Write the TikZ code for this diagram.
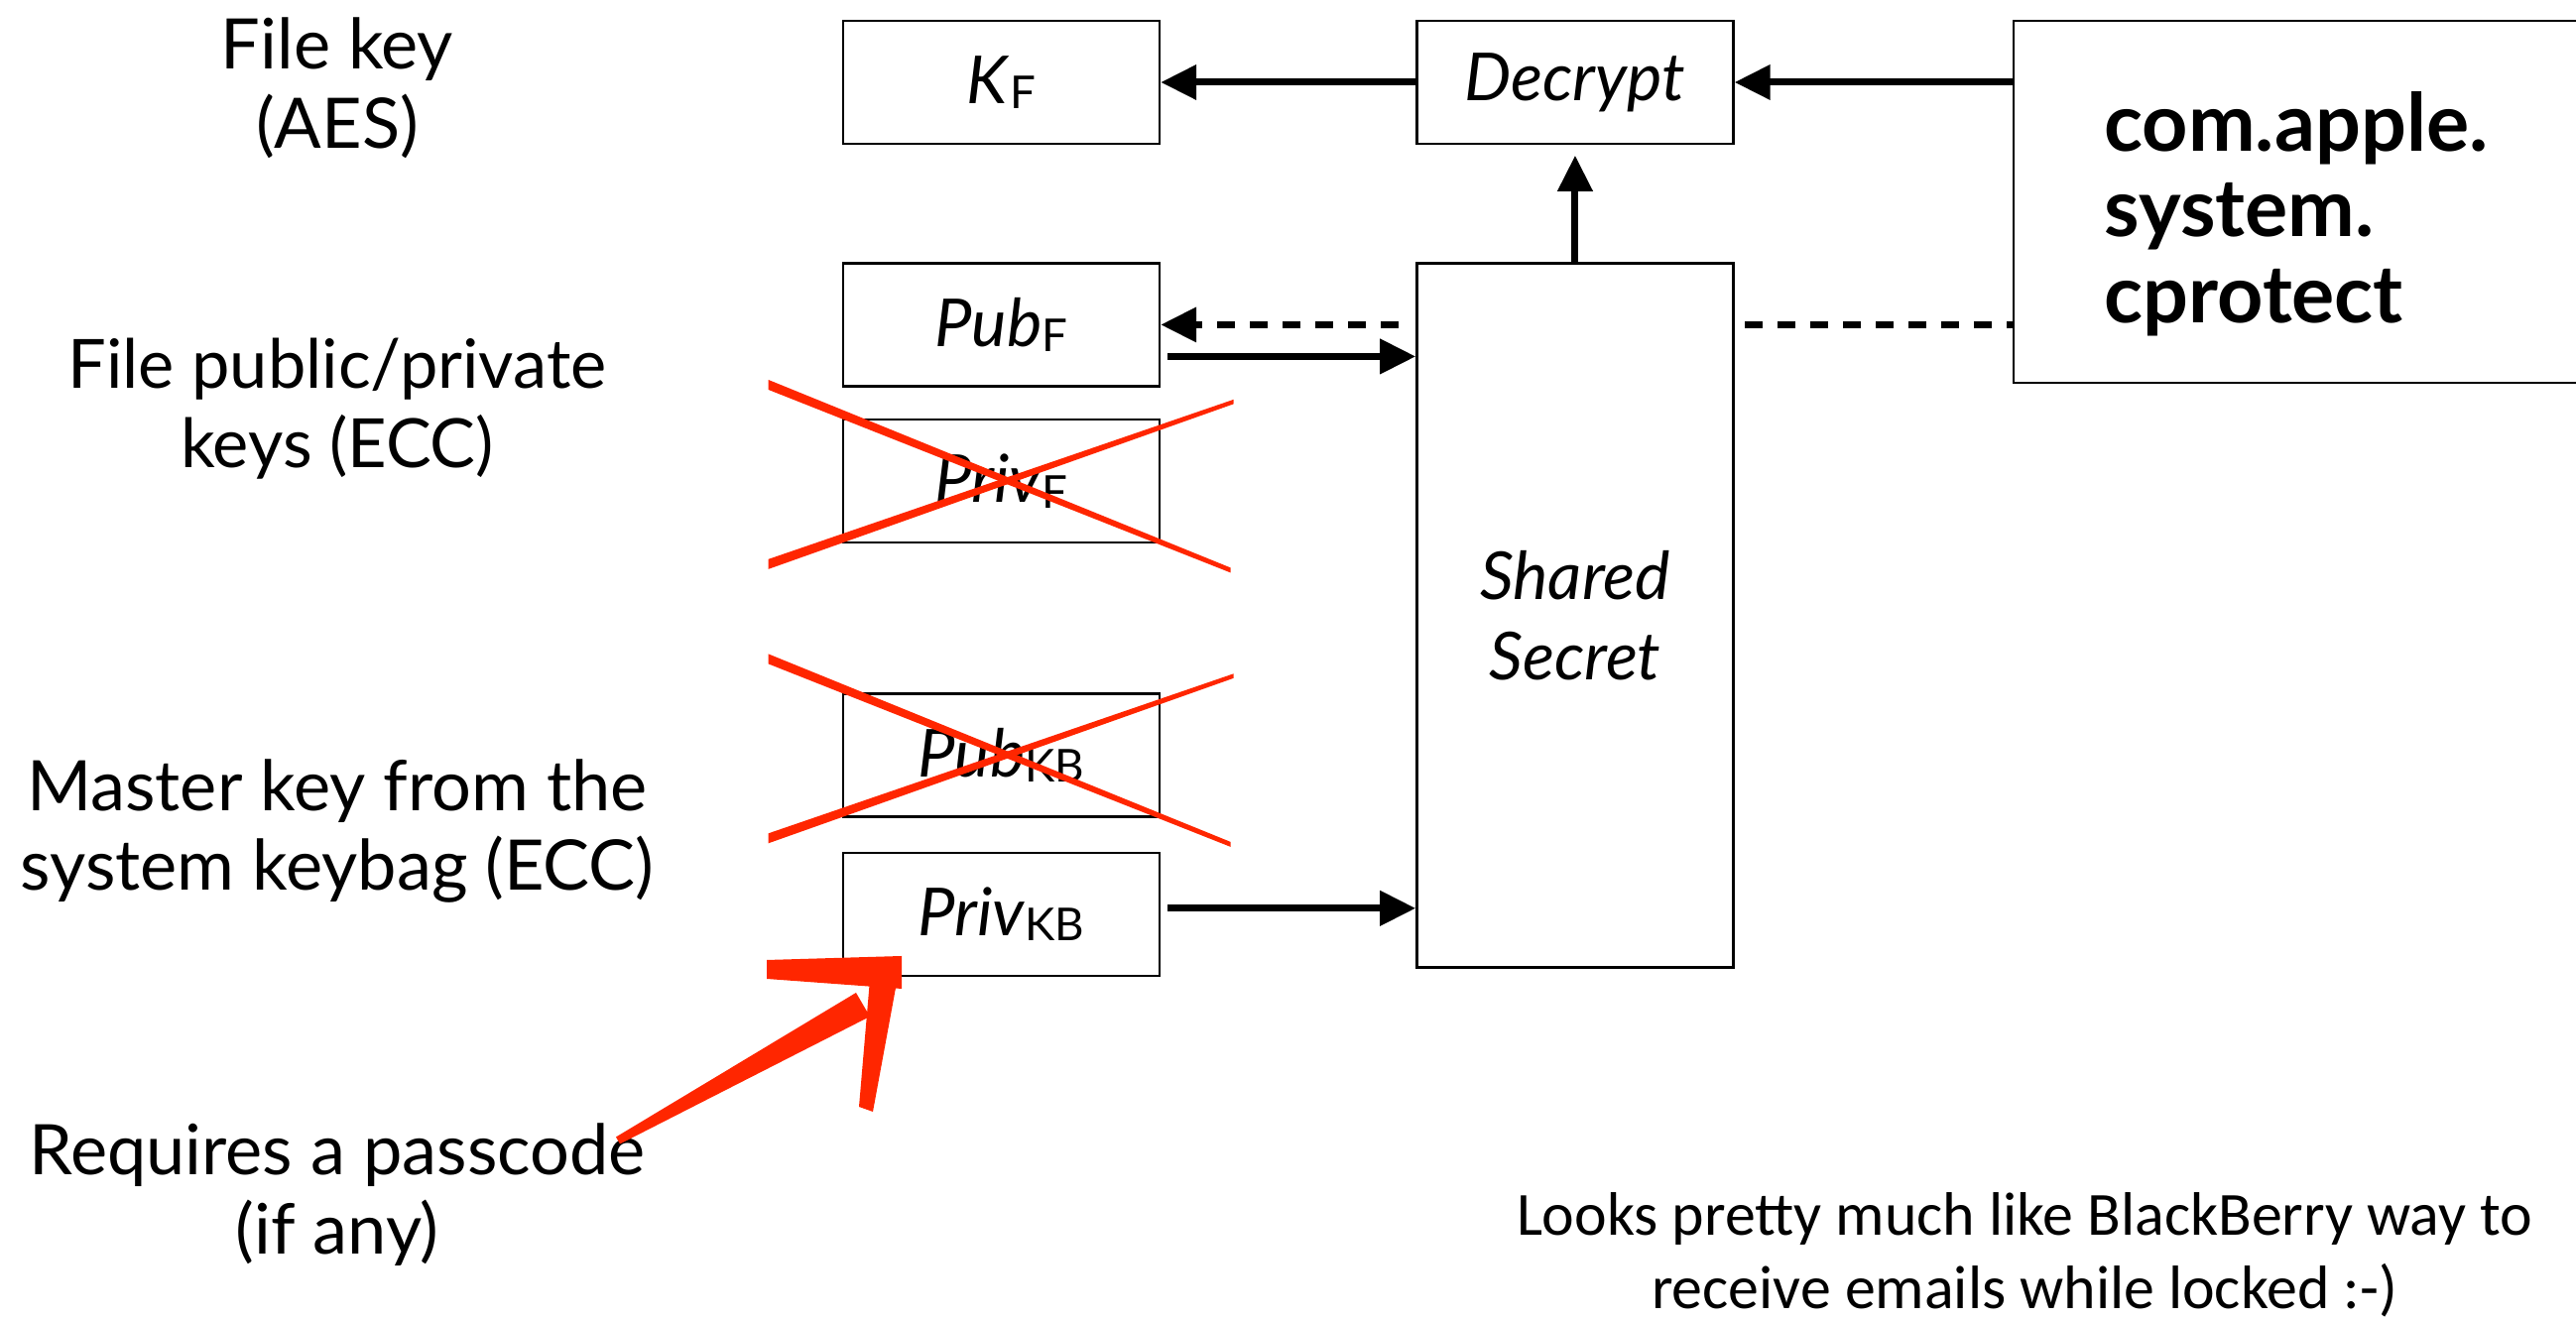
\documentclass[tikz,border=0pt]{standalone}
\usepackage{fontspec}
\setmainfont{Lato}
\newfontfamily\notefont{Carlito}
\usetikzlibrary{arrows.meta, positioning, calc}
\definecolor{scribble}{RGB}{255,38,0}
\newcommand{\keyname}[2]{\textit{#1}\raisebox{-1.6pt}{\fontsize{13}{13}\selectfont #2}}
\newcommand{\strikeout}[1]{%
  \fill[scribble] ($(#1)+(-2.35,1.02)$) -- ($(#1)+(2.31,-0.875)$) -- ($(#1)+(2.31,-0.925)$) -- ($(#1)+(-2.35,0.92)$) -- cycle;
  \fill[scribble] ($(#1)+(-2.35,-0.79)$) -- ($(#1)+(2.34,0.82)$) -- ($(#1)+(2.34,0.775)$) -- ($(#1)+(-2.35,-0.89)$) -- cycle;}
\tikzset{
  keybox/.style={rectangle, minimum width=3.19cm, minimum height=1.24cm, inner sep=0pt,
    draw=black, line width=0.7pt, font=\fontsize{19}{23}\selectfont},
  sidelabel/.style={align=center, font=\fontsize{20}{22.7}\selectfont},
  arr/.style={-{Triangle[length=0.36cm, width=0.34cm]}, line width=2pt},
  darr/.style={arr, dash pattern=on 0.18cm off 0.15cm},
  dline/.style={line width=2pt, dash pattern=on 0.18cm off 0.15cm},
}

\begin{document}
\begin{tikzpicture}[node distance=1.18cm]
  \useasboundingbox (0,0) rectangle (25.97,13.31);
  \node[keybox] (kf) at (10.095,12.48) {\keyname{K}{F}};
  \node[keybox, right=2.57cm of kf] (decrypt) {\textit{Decrypt}};
  \node[keybox, below=of kf] (pubf) {\keyname{Pub}{F}};
  \node[keybox, below=0.31cm of pubf] (privf) {\keyname{Priv}{F}};
  \node[keybox, below=1.50cm of privf] (pubkb) {\keyname{Pub}{KB}};
  \node[keybox, below=0.34cm of pubkb] (privkb) {\keyname{Priv}{KB}};
  \node[keybox, below=of decrypt, minimum height=7.10cm, align=center] (shared) {\textit{Shared}\\\textit{Secret}};
  \node[keybox, right=2.80cm of decrypt.north east, anchor=north west, minimum width=5.70cm,
    minimum height=3.65cm, align=left, font=\fontsize{23}{24.6}\selectfont\bfseries] (cprotect)
    {\rule{0pt}{24pt}com.apple.\\system.\\cprotect};

  \node[sidelabel] (filekey) at (3.40,12.42) {File key\\(AES)};
  \node[sidelabel, font=\fontsize{19.5}{22.7}\selectfont] (filepair) at (3.40,9.19) {File public/private\\keys (ECC)};
  \node[sidelabel] (master) at (3.40,4.93) {Master key from the\\system keybag (ECC)};
  \node[sidelabel] (passcode) at (3.40,1.26) {Requires a passcode\\(if any)};
  \node[align=center, font=\notefont\fontsize{17.6}{21}\selectfont] (note) at (20.41,0.66)
    {Looks pretty much like BlackBerry way to\\receive emails while locked :-)};

  \draw[arr] (decrypt) -- (kf);
  \draw[arr] (cprotect.west |- decrypt) -- (decrypt);
  \draw[arr, shorten >=3pt] (shared) -- (decrypt);
  \draw[darr, shorten <=5pt] (shared.west |- pubf) -- (pubf);
  \draw[arr, shorten <=2pt] ([yshift=-0.32cm]pubf.east) -- ([yshift=-0.32cm]pubf.east -| shared.west);
  \draw[dline, shorten <=3pt] (shared.east |- pubf) -- (cprotect.west |- pubf);
  \draw[arr, shorten <=2pt] ([yshift=0.06cm]privkb.east) -- ([yshift=0.06cm]privkb.east -| shared.west);

  \strikeout{privf}
  \strikeout{pubkb}
  \fill[scribble] (6.21,1.845) -- (8.63,3.30) -- (8.77,3.06) -- (6.25,1.775) -- cycle;
  \fill[scribble] (7.73,3.63) -- (9.09,3.67) -- (9.09,3.34) -- (7.73,3.44) -- cycle;
  \fill[scribble] (8.78,3.55) -- (9.08,3.62) -- (8.80,2.10) -- (8.66,2.15) -- cycle;
\end{tikzpicture}
\end{document}
